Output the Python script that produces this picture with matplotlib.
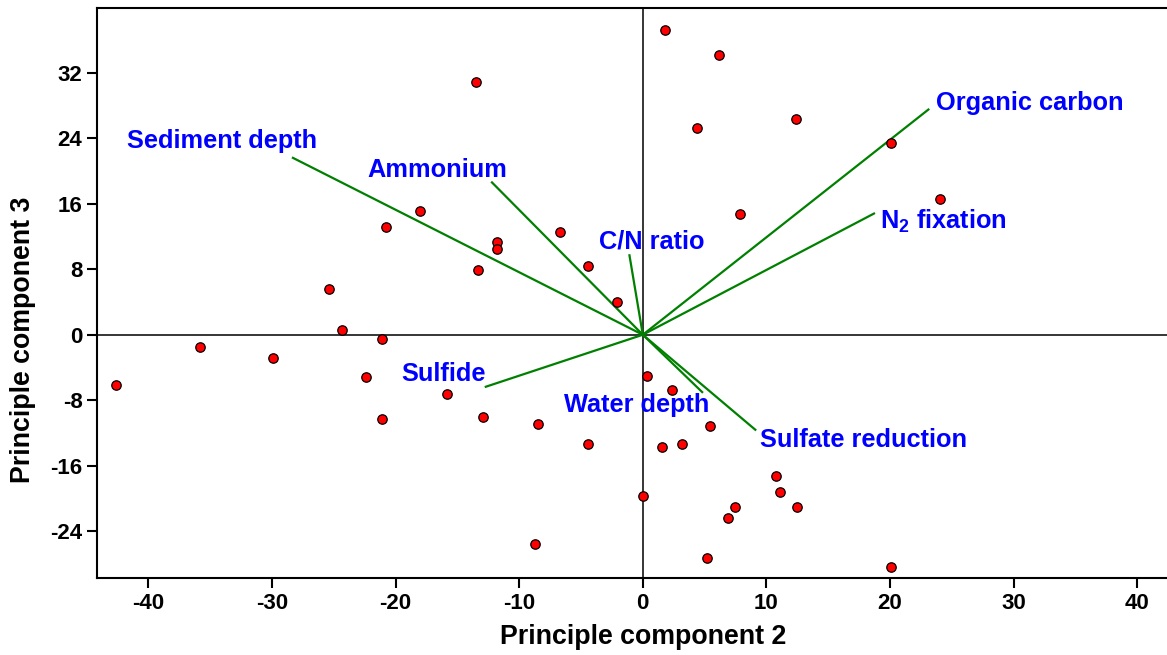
import numpy as np
import matplotlib
matplotlib.use('Agg')
import matplotlib.pyplot as plt

plt.rcParams['font.family'] = ['Liberation Sans', 'DejaVu Sans']
plt.rcParams['font.weight'] = 'bold'
plt.rcParams['axes.unicode_minus'] = False
plt.rcParams['mathtext.fontset'] = 'custom'
plt.rcParams['mathtext.bf'] = 'Liberation Sans:bold'
plt.rcParams['mathtext.rm'] = 'Liberation Sans:bold'

# site scores (PC2, PC3)
pc2 = [1.8, 6.2, -13.5, 4.4, 12.4, 20.1, 24.0, 7.9, -18.0, -20.8,
       -11.8, -11.8, -6.7, -13.3, -4.4, -2.1, -25.4, -24.3, -21.1, -35.8,
       -29.9, -42.6, -22.4, -21.1, -15.8, -12.9, -8.45, -4.45, 0.3, 2.35,
       5.45, 1.55, 3.2, 0.05, 10.75, 11.1, 7.45, 6.9, 12.5, -8.7,
       5.2, 20.1]
pc3 = [37.2, 34.2, 30.9, 25.2, 26.3, 23.4, 16.6, 14.7, 15.1, 13.15,
       11.3, 10.5, 12.5, 7.9, 8.4, 4.0, 5.6, 0.6, -0.5, -1.5,
       -2.9, -6.1, -5.1, -10.3, -7.2, -10.0, -10.9, -13.3, -5.0, -6.8,
       -11.1, -13.7, -13.35, -19.7, -17.2, -19.2, -21.0, -22.4, -21.0, -25.6,
       -27.3, -28.3]

# environmental vectors
var_names = ['Sediment depth', 'Ammonium', 'C/N ratio', 'Organic carbon',
             r'N$_\mathbf{2}$ fixation', 'Sulfide', 'Water depth', 'Sulfate reduction']
vec_x = [-28.3, -12.2, -1.08, 23.1, 18.7, -12.7, 4.8, 9.1]
vec_y = [21.6, 18.6, 9.7, 27.5, 14.8, -6.35, -7.0, -11.6]
lab_x = [-41.7, -22.3, -3.54, 23.7, 19.2, -19.55, -6.4, 9.5]
lab_y = [22.8, 19.3, 10.55, 27.5, 12.9, -5.7, -9.4, -13.7]

xticks = [-40, -30, -20, -10, 0, 10, 20, 30, 40]
yticks = [-24, -16, -8, 0, 8, 16, 24, 32]

fig = plt.figure(figsize=(11.67, 6.55), dpi=100)
ax = fig.add_axes([0.0831, 0.1176, 0.9169, 0.8702])

ax.axhline(0, color='black', lw=1.1, zorder=1)
ax.axvline(0, color='black', lw=1.1, zorder=1)

for vx, vy in zip(vec_x, vec_y):
    ax.plot([0, vx], [0, vy], color='#008000', lw=1.6, zorder=2)

ax.scatter(pc2, pc3, s=46, c='#ff0000', edgecolors='black', linewidths=0.9, zorder=3)

for name, tx, ty in zip(var_names, lab_x, lab_y):
    ax.text(tx, ty, name, color='#0000ff', fontsize=18.3, fontweight='bold',
            ha='left', va='baseline', zorder=4)

ax.set_xlim(-44.15, 42.4)
ax.set_ylim(-29.7, 39.9)
ax.set_xticks(xticks)
ax.set_yticks(yticks)
ax.tick_params(direction='out', length=7, width=1.5, labelsize=16)
for lab in ax.get_xticklabels() + ax.get_yticklabels():
    lab.set_fontweight('bold')

for side in ['left', 'bottom', 'top']:
    ax.spines[side].set_linewidth(1.5)
ax.spines['right'].set_visible(False)

# axis titles are centred on the zero lines in the original
ax.set_xlabel('Principle component 2', fontsize=19.3, fontweight='bold')
ax.set_ylabel('Principle component 3', fontsize=19.3, fontweight='bold')
ax.xaxis.set_label_coords(0.510, -0.080)
ax.yaxis.set_label_coords(-0.057, 0.418)

plt.savefig('out.png', dpi=100)
plt.close()
